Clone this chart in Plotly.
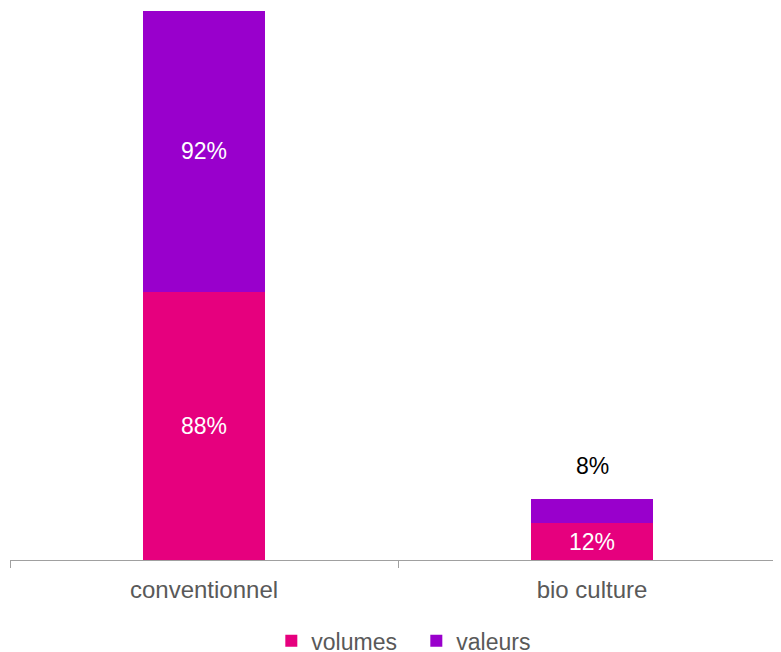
import plotly.graph_objects as go

categories = ["conventionnel", "bio culture"]
volumes = [88, 12]
valeurs = [92, 8]
volumes_labels = ["88%", "12%"]
valeurs_labels = ["92%", "8%"]

PINK = "#E6007E"
PURPLE = "#9900CC"
GRAY = "#595959"
FONT = "Liberation Sans, Arial, sans-serif"

fig = go.Figure()
fig.add_trace(go.Bar(
    name="volumes", x=categories, y=volumes, marker_color=PINK,
    marker_line_width=0, width=0.3144,
    text=volumes_labels, textposition="inside", insidetextanchor="middle",
    textfont=dict(color="white", size=23, family=FONT),
    constraintext="none", hoverinfo="skip",
))
val_pos = ["inside", "none"]
fig.add_trace(go.Bar(
    name="valeurs", x=categories, y=valeurs, marker_color=PURPLE,
    marker_line_width=0, width=0.3144,
    text=valeurs_labels, textposition=val_pos, insidetextanchor="middle",
    textfont=dict(color="white", size=23, family=FONT),
    constraintext="none", hoverinfo="skip",
))
fig.add_annotation(
    x=categories[1], y=volumes[1] + valeurs[1], text=valeurs_labels[1],
    showarrow=False, yanchor="middle", yshift=33,
    font=dict(color="black", size=23, family=FONT),
)

fig.update_layout(
    barmode="stack",
    width=773, height=644,
    margin=dict(l=2, r=0, t=3, b=92),
    paper_bgcolor="white", plot_bgcolor="white",
    font=dict(family=FONT, color=GRAY, size=24),
    showlegend=True,
    legend=dict(orientation="h", x=0.527, xanchor="center", y=0.0175, yanchor="middle",
                yref="container", font=dict(size=23, color=GRAY),
                entrywidth=100, entrywidthmode="pixels",
                itemclick=False, traceorder="normal"),
    xaxis=dict(range=[-0.5, 1.487], showline=True, linecolor="#A0A0A0", linewidth=1,
               ticks="outside", tickson="boundaries", ticklen=7, tickcolor="#A0A0A0",
               ticklabelstandoff=8,
               showgrid=False, zeroline=False, tickfont=dict(size=24, color=GRAY)),
    yaxis=dict(range=[0, 180], visible=False, showgrid=False, zeroline=False),
)

fig.write_html("out.html")
